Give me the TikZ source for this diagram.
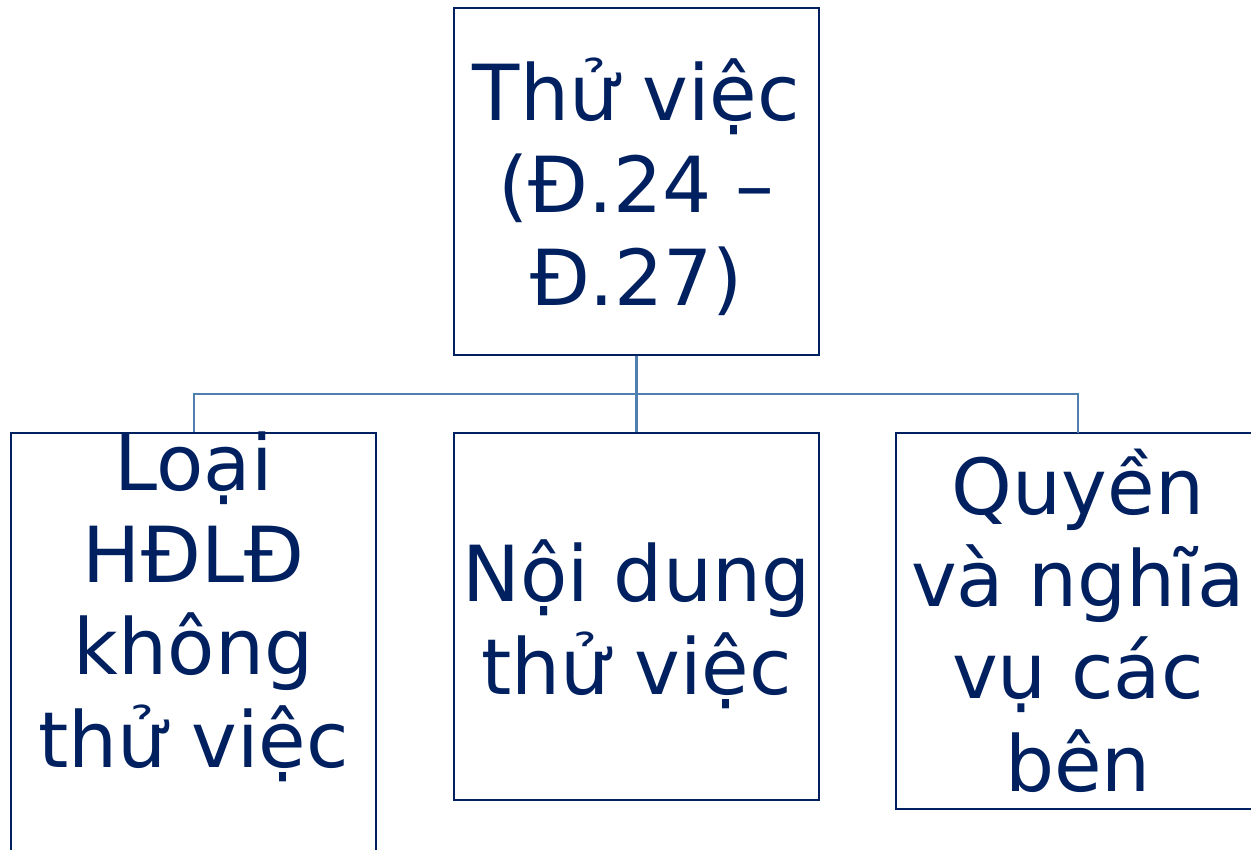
\documentclass[tikz,border=0pt]{standalone}
\usepackage{fontspec}
\setmainfont{DejaVu Sans}
\usepackage{xcolor}
\usepackage{tikz}
\definecolor{navy}{HTML}{002060}
\definecolor{linkblue}{HTML}{4F7FB0}
\tikzset{
  box/.style={draw=navy,line width=1.3pt,rectangle,inner sep=0pt},
  label/.style={text=navy,align=center,anchor=base,inner sep=0pt,
    font=\fontsize{44}{52.5}\selectfont},
  link/.style={draw=linkblue,line width=1.2pt}
}
\begin{document}
\begin{tikzpicture}[x=0.02cm,y=-0.02cm]
  \useasboundingbox (0,0) rectangle (1251,849);
  \clip (0,0) rectangle (1251,849);
  % boxes
  \node[box,minimum width=365*0.02cm,minimum height=347*0.02cm] (thuviec) at (636.5,181.5) {};
  \node[box,minimum width=365*0.02cm,minimum height=520*0.02cm] (loai) at (193.5,693) {};
  \node[box,minimum width=365*0.02cm,minimum height=367*0.02cm] (noidung) at (636.5,616.5) {};
  \node[box,minimum width=420*0.02cm,minimum height=376*0.02cm] (quyen) at (1106,621) {};
  % texts (base = last line)
  \node[label] (t0) at (636.5,305) {Thử việc\\(Đ.24 –\\Đ.27)};
  \node[label] (t1) at (193.5,767) {Loại\\HĐLĐ\\không\\thử việc};
  \node[label] (t2) at (636.5,694) {Nội dung\\thử việc};
  \node[label] (t3) at (1078,791) {Quyền\\và nghĩa\\vụ các\\bên};
  % connectors
  \coordinate (bus) at (636.5,394);
  \draw[link] (thuviec.south) -- (bus);
  \draw[link] (loai.north -| 194,0) |- (bus) -| (1078,433);
  \draw[link] (bus) -- (noidung.north);
\end{tikzpicture}
\end{document}
